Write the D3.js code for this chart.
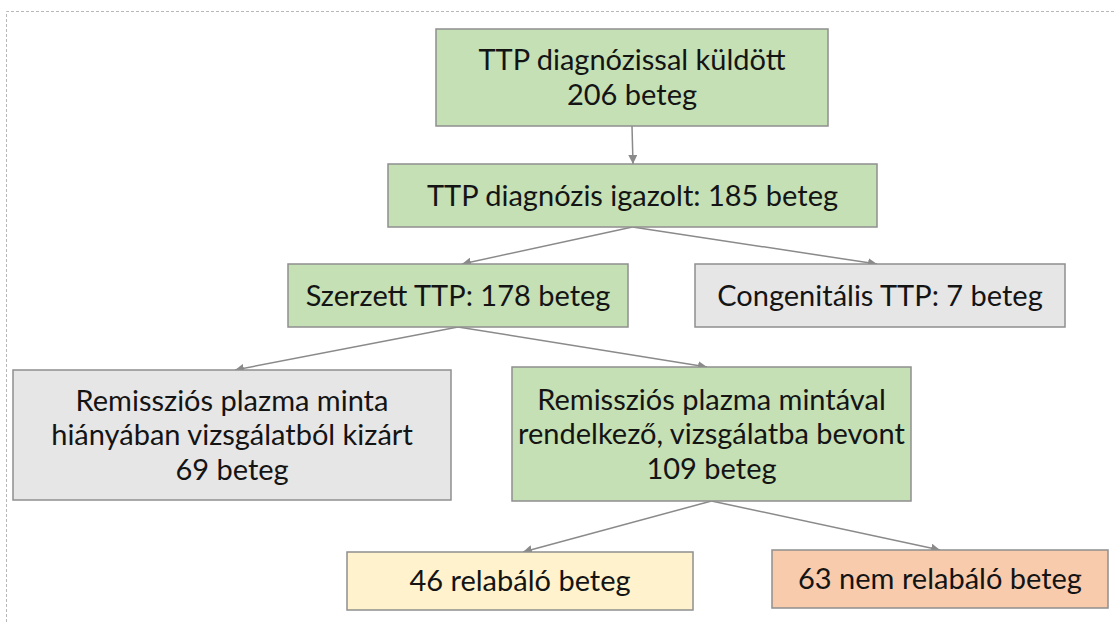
<!DOCTYPE html>
<html>
<head>
<meta charset="utf-8">
<script src="https://cdn.jsdelivr.net/npm/d3@7"></script>
<style>
  html, body { margin: 0; padding: 0; background: #fff; }
  svg { display: block; }
</style>
</head>
<body>
<svg id="chart"></svg>
<script>
// node ids, text lines and fill category
const nodeIds = ["sent", "confirmed", "acquired", "congenital", "excluded", "included", "relapse", "norelapse"];
const nodeLines = [
  ["TTP diagnózissal küldött", "206 beteg"],
  ["TTP diagnózis igazolt: 185 beteg"],
  ["Szerzett TTP: 178 beteg"],
  ["Congenitális TTP: 7 beteg"],
  ["Remissziós plazma minta", "hiányában vizsgálatból kizárt", "69 beteg"],
  ["Remissziós plazma mintával", "rendelkező, vizsgálatba bevont", "109 beteg"],
  ["46 relabáló beteg"],
  ["63 nem relabáló beteg"]
];
const nodeKind = ["main", "main", "main", "other", "other", "main", "relapse", "norelapse"];

// flow edges
const linkSource = ["sent", "confirmed", "confirmed", "acquired", "acquired", "included", "included"];
const linkTarget = ["confirmed", "acquired", "congenital", "excluded", "included", "relapse", "norelapse"];

// layout of the boxes (pixels: left, top, right, bottom)
const layout = {
  sent:       [436, 29, 828, 126],
  confirmed:  [388, 164, 877, 227],
  acquired:   [288, 264, 628, 327],
  congenital: [695, 264, 1065, 327],
  excluded:   [13, 370, 451, 500],
  included:   [512, 367, 911, 501],
  relapse:    [347, 552, 693, 610],
  norelapse:  [772, 550, 1108, 608]
};
// where the incoming arrow lands on each box
const arrowTipX = { confirmed: 633, acquired: 462, congenital: 877, excluded: 235, included: 707, relapse: 523, norelapse: 940 };

const width = 1115, height = 622;
const fill = d3.scaleOrdinal()
    .domain(["main", "other", "relapse", "norelapse"])
    .range(["#c5e0b4", "#e7e6e6", "#fff2cc", "#f8cbad"]);

const svg = d3.select("#chart")
    .attr("width", width)
    .attr("height", height);

// dashed frame of the slide
svg.append("path")
    .attr("d", "M6.5," + height + "V11.5H" + width)
    .attr("fill", "none")
    .attr("stroke", "#b8b8b8")
    .attr("stroke-dasharray", "3,2")
    .attr("stroke-width", 1);

svg.append("defs").append("marker")
    .attr("id", "arrow")
    .attr("viewBox", "0 0 10 10")
    .attr("refX", 10).attr("refY", 5)
    .attr("markerWidth", 9).attr("markerHeight", 9)
    .attr("markerUnits", "userSpaceOnUse")
    .attr("orient", "auto")
  .append("path")
    .attr("d", "M0,0L10,5L0,10z")
    .attr("fill", "#8a8a8a");

const nodes = nodeIds.map((id, i) => {
  const b = layout[id];
  return { id: id, lines: nodeLines[i], kind: nodeKind[i], x0: b[0], y0: b[1], x1: b[2], y1: b[3] };
});
const byId = new Map(nodes.map(d => [d.id, d]));
const links = linkSource.map((s, i) => ({ source: byId.get(s), target: byId.get(linkTarget[i]) }));

// links
svg.append("g").attr("class", "links").selectAll("line")
    .data(links)
  .enter().append("line")
    .attr("x1", d => (d.source.x0 + d.source.x1) / 2)
    .attr("y1", d => d.source.y1)
    .attr("x2", d => arrowTipX[d.target.id])
    .attr("y2", d => d.target.y0)
    .attr("stroke", "#8a8a8a")
    .attr("stroke-width", 1.5)
    .attr("marker-end", "url(#arrow)");

// boxes
const node = svg.append("g").attr("class", "nodes").selectAll(".node")
    .data(nodes)
  .enter().append("g")
    .attr("class", "node")
    .attr("transform", d => "translate(" + d.x0 + "," + d.y0 + ")");

node.append("rect")
    .attr("width", d => d.x1 - d.x0)
    .attr("height", d => d.y1 - d.y0)
    .attr("fill", d => fill(d.kind))
    .attr("stroke", "#8f8f8f")
    .attr("stroke-width", 1.5);

const lineH = 34.5;
node.append("text")
    .attr("text-anchor", "middle")
    .attr("font-family", "Lato, 'Open Sans', sans-serif")
    .attr("font-size", 29)
    .attr("fill", "#141414")
  .selectAll("tspan")
    .data(d => d.lines.map((t, i) => ({ t: t, i: i, n: d.lines.length, w: d.x1 - d.x0, h: d.y1 - d.y0 })))
  .enter().append("tspan")
    .attr("x", d => d.w / 2)
    .attr("y", d => d.h / 2 + (d.i - (d.n - 1) / 2) * lineH)
    .attr("dy", "0.35em")
    .text(d => d.t);
</script>
</body>
</html>
